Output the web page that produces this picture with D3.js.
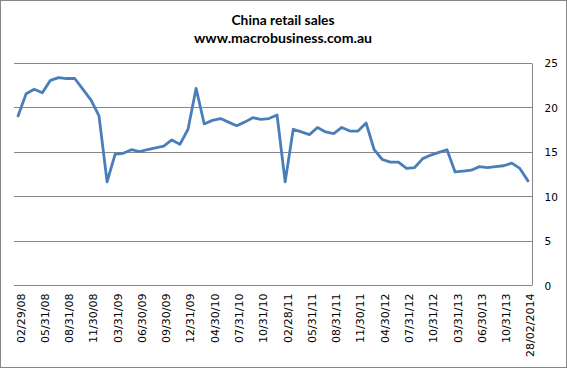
<!DOCTYPE html>
<html>
<head>
<meta charset="utf-8">
<script src="https://cdn.jsdelivr.net/npm/d3@7/dist/d3.min.js"></script>
<style>
  html, body { margin: 0; padding: 0; background: #fff; }
  svg { display: block; }
</style>
</head>
<body>
<svg id="chart" width="567" height="368"></svg>
<script>
const titleLines = ["China retail sales", "www.macrobusiness.com.au"];

const categories = [
  "02/29/08","03/31/08","04/30/08","05/31/08","06/30/08","07/31/08","08/31/08","09/30/08","10/31/08","11/30/08","12/31/08",
  "02/28/09","03/31/09","04/30/09","05/31/09","06/30/09","07/31/09","08/31/09","09/30/09","10/31/09","11/30/09","12/31/09",
  "02/28/10","03/31/10","04/30/10","05/31/10","06/30/10","07/31/10","08/31/10","09/30/10","10/31/10","11/30/10","12/31/10",
  "02/28/11","03/31/11","04/30/11","05/31/11","06/30/11","07/31/11","08/31/11","09/30/11","10/31/11","11/30/11","12/31/11",
  "03/31/12","04/30/12","05/31/12","06/30/12","07/31/12","08/31/12","09/30/12","10/31/12","11/30/12","12/31/12",
  "03/31/13","04/30/13","05/31/13","06/30/13","07/31/13","08/31/13","10/31/13","11/30/13","12/31/13","28/02/2014"
];

const retailSales = [
  19.0, 21.5, 22.0, 21.6, 23.0, 23.3, 23.2, 23.2, 22.0, 20.8, 19.0,
  11.6, 14.7, 14.8, 15.2, 15.0, 15.2, 15.4, 15.6, 16.3, 15.8, 17.5,
  22.1, 18.1, 18.5, 18.7, 18.3, 17.9, 18.3, 18.8, 18.6, 18.7, 19.1,
  11.6, 17.5, 17.2, 16.9, 17.7, 17.2, 17.0, 17.7, 17.3, 17.3, 18.2,
  15.2, 14.1, 13.8, 13.8, 13.1, 13.2, 14.2, 14.6, 14.9, 15.2,
  12.7, 12.8, 12.9, 13.3, 13.2, 13.3, 13.4, 13.7, 13.1, 11.7
];

const yTicks = [0, 5, 10, 15, 20, 25];
const xTickLabels = categories.filter((d, i) => i % 3 === 0);

const W = 567, H = 368;
const plot = { left: 14, right: 532, top: 62.5, bottom: 285 };

const svg = d3.select("#chart");

// outer border
svg.append("rect")
  .attr("x", 0.5).attr("y", 0.5)
  .attr("width", W - 1).attr("height", H - 1)
  .attr("fill", "#fff").attr("stroke", "#868686").attr("stroke-width", 1);

const x = d3.scaleBand().domain(categories).range([plot.left, plot.right]).padding(0);
const y = d3.scaleLinear().domain([0, 25]).range([plot.bottom, plot.top]);

// gridlines
svg.append("g").selectAll("line").data(yTicks).join("line")
  .attr("x1", plot.left).attr("x2", plot.right)
  .attr("y1", d => Math.round(y(d)) + 0.5).attr("y2", d => Math.round(y(d)) + 0.5)
  .attr("stroke", "#868686").attr("stroke-width", 1);

// right axis
const yAxis = svg.append("g")
  .attr("transform", `translate(${Math.round(plot.right) + 0.5},0)`)
  .call(d3.axisRight(y).tickValues(yTicks).tickSize(0).tickPadding(12));
yAxis.select(".domain").attr("stroke", "#868686").attr("d", `M0,${Math.round(plot.top)+0.5}V${Math.round(plot.bottom)+0.5}`);
yAxis.selectAll("text")
  .attr("font-family", "'DejaVu Sans', Verdana, sans-serif")
  .attr("font-size", "10.5px")
  .attr("fill", "#000")
  .attr("dy", "0.4em");

// bottom axis
const xAxis = svg.append("g")
  .attr("transform", `translate(0,${Math.round(plot.bottom) + 0.5})`)
  .call(d3.axisBottom(x).tickValues(xTickLabels).tickSize(0).tickPadding(0));
xAxis.select(".domain").attr("stroke", "#868686").attr("d", `M${plot.left},0H${plot.right}`);
xAxis.selectAll("text")
  .attr("font-family", "'DejaVu Sans', Verdana, sans-serif")
  .attr("font-size", "11px")
  .attr("fill", "#000")
  .attr("text-anchor", "end")
  .attr("transform", "translate(2.5,8) rotate(-90)")
  .attr("x", 0).attr("y", 0)
  .attr("dy", "0.36em");

// line
const line = d3.line()
  .x((d, i) => x(categories[i]) + x.bandwidth() / 2)
  .y(d => y(d));

svg.append("path")
  .datum(retailSales)
  .attr("d", line)
  .attr("fill", "none")
  .attr("stroke", "#4A7EBB")
  .attr("stroke-width", 2.8)
  .attr("stroke-linejoin", "round")
  .attr("stroke-linecap", "round");

// title
const titleWidths = [103, 178];
svg.append("g").selectAll("text").data(titleLines).join("text")
  .attr("x", 283)
  .attr("y", (d, i) => 25 + i * 17.5)
  .attr("text-anchor", "middle")
  .attr("font-family", "Lato, 'Liberation Sans', Arial, sans-serif")
  .attr("font-weight", "bold")
  .attr("font-size", "14px")
  .attr("fill", "#000")
  .attr("textLength", (d, i) => titleWidths[i])
  .attr("lengthAdjust", "spacingAndGlyphs")
  .text(d => d);
</script>
</body>
</html>
